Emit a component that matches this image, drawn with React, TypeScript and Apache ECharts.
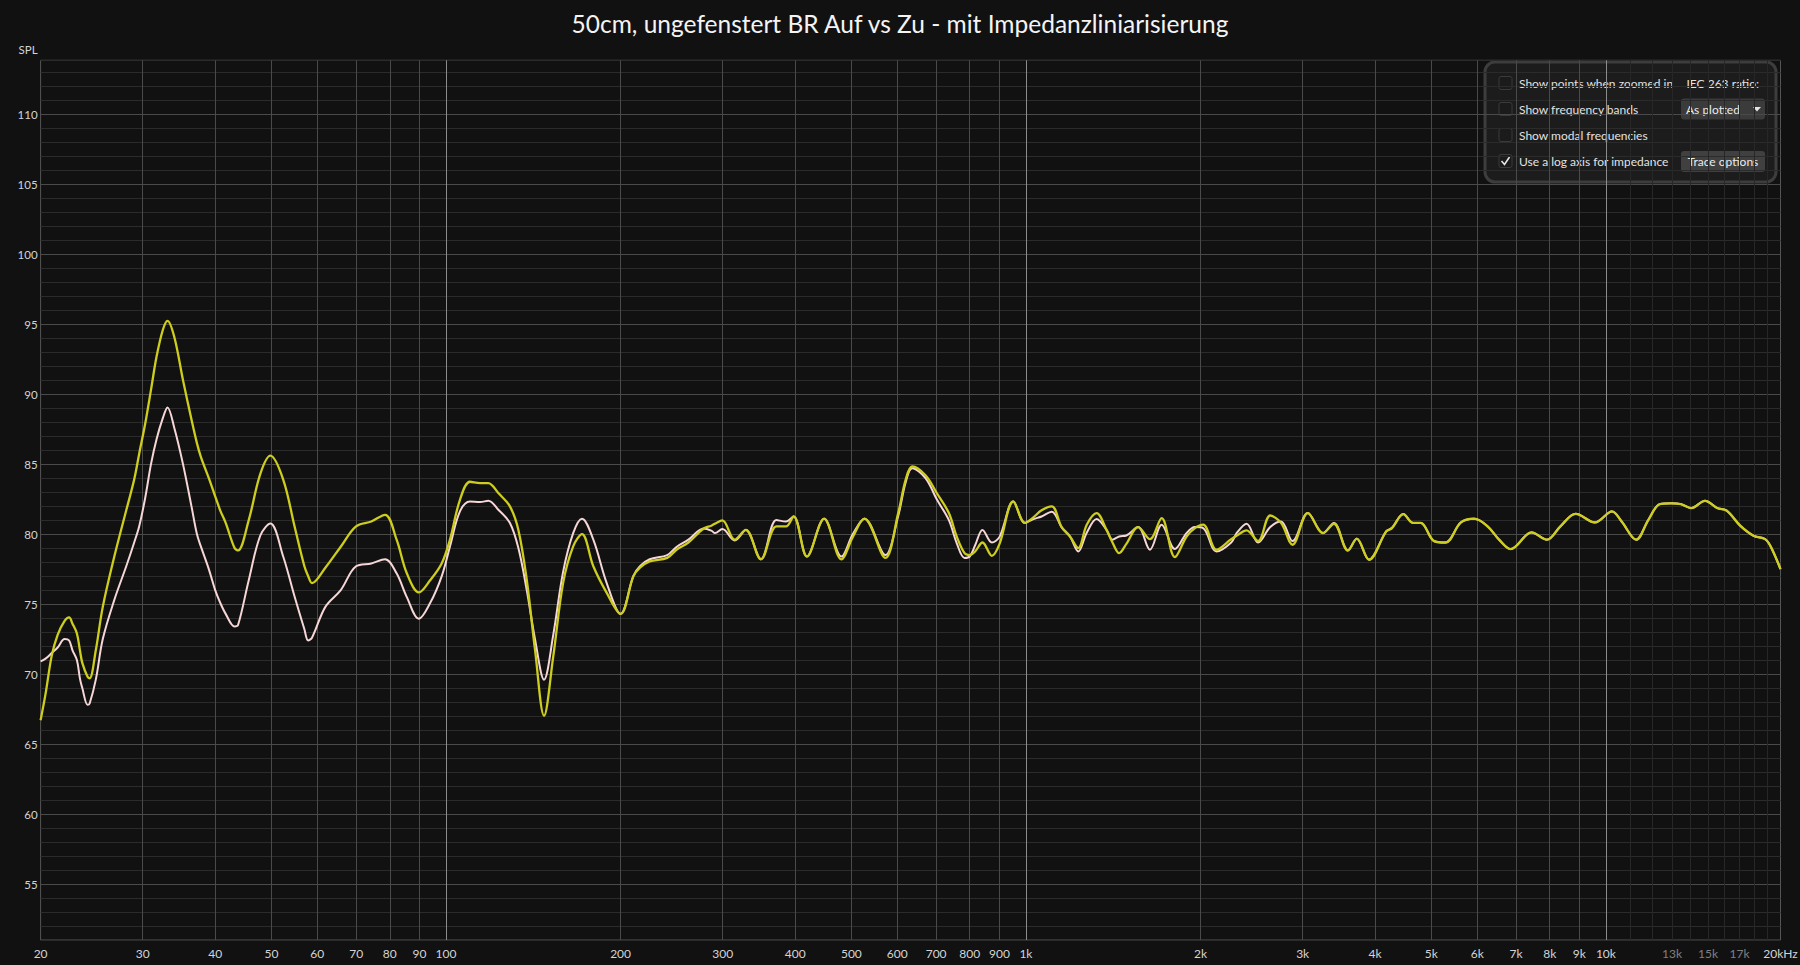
import React, { useEffect, useRef } from 'react';
import * as echarts from 'echarts';

const TITLE = '50cm, ungefenstert BR Auf vs Zu - mit Impedanzliniarisierung';
const Y_NAME = 'SPL';
const FONT = 'Lato, "Open Sans", "Noto Sans", sans-serif';

const freqs = [
  20, 20.4, 20.9, 21.4, 22.0, 22.4, 22.7, 23.1, 23.4, 23.6, 24.1, 24.3, 24.9, 25.6, 26.8, 28.1, 29.0, 29.6,
  30.3, 31.0, 31.7, 32.5, 33.1, 34.0, 35.2, 36.4, 37.2, 37.8, 39.0, 40.0, 40.8, 41.7, 43.2, 43.8, 45.7,
  47.85, 49.8, 52.4, 54.85, 57.0, 57.85, 58.74, 61.95, 65.85, 69.97, 74.35, 78.5, 82.2, 85.6, 89.8, 93.9,
  98.3, 101.6, 105.7, 110, 114.5, 118.3, 123.1, 128.9, 133.3, 137.8, 142.4, 147.6, 153.1, 159.2, 165.7,
  171.6, 179.5, 189.3, 200, 210.4, 216, 224.5, 240.7, 250, 261.8, 278.2, 286.7, 291, 299.6, 314.7, 328.8,
  349.2, 371.3, 385.7, 397.5, 419.2, 448.8, 480.6, 503, 526.6, 572.3, 602.2, 620.4, 636.6, 671, 702.6,
  736.4, 759.6, 783.7, 800, 817.3, 841.5, 873.4, 900.5, 951, 996, 1030, 1064, 1108, 1152, 1191, 1231,
  1273, 1324, 1377, 1410, 1448, 1490, 1561, 1636, 1714, 1806, 1892, 1956, 2021, 2131, 2259, 2311, 2401,
  2513, 2638, 2753, 2882, 3062, 3253, 3396, 3591, 3719, 3904, 4180, 4276, 4474, 4649, 4793, 5055, 5291,
  5622, 5929, 6253, 6545, 6851, 7447, 7912, 8346, 8869, 9569, 10247, 10644, 11275, 11838, 12387, 12966,
  13468, 14033, 14822, 15560, 16162, 17044, 17973, 18812, 19245, 20000,
];

// yellow trace
const splAuf = [
  66.7, 68.6, 71.3, 72.8, 73.8, 74.05, 73.6, 72.9, 71.6, 70.8, 69.8, 69.7, 71.7, 74.8, 78.4, 81.7, 83.9, 85.8,
  87.9, 90.3, 92.7, 94.6, 95.24, 94.1, 91.0, 88.2, 86.5, 85.5, 84.0, 82.7, 81.7, 80.8, 79.0, 78.83, 81.0,
  84.3, 85.6, 83.9, 80.5, 77.7, 77.0, 76.5, 77.6, 79.1, 80.55, 80.9, 81.38, 79.6, 77.2, 75.83, 76.7,
  77.9, 79.6, 82.45, 83.74, 83.64, 83.64, 82.93, 81.98, 80.3, 76.74, 71.74, 67.02, 71.26, 76.5, 79.12,
  80.0, 77.7, 75.8, 74.3, 76.98, 77.6, 78.05, 78.3, 78.9, 79.4, 80.4, 80.6, 80.75, 80.98, 79.6, 80.3,
  78.2, 80.55, 80.55, 81.26, 78.4, 81.1, 78.2, 79.8, 81.1, 78.3, 81.5, 83.9, 84.83, 84.2, 82.9,
  81.5, 79.83, 78.64, 78.5, 78.76, 79.4, 78.45, 79.3, 82.33, 80.8, 81.2, 81.7, 81.98, 80.5, 79.83, 79.0,
  80.67, 81.5, 80.3, 79.4, 78.64, 79.3, 80.5, 79.64, 81.14, 78.36, 79.83, 80.43, 80.67, 78.88, 79.64, 79.9, 80.26,
  79.5, 81.33, 80.8, 79.24, 81.5, 80.07, 80.74, 78.83, 79.67, 78.17, 80.19, 80.43, 81.43, 80.8, 80.8, 79.5, 79.4,
  80.83, 81.1, 80.55, 79.6, 78.93, 80.12, 79.6, 80.55, 81.45, 80.83, 81.62, 80.9, 79.6, 81.02, 82.14, 82.2,
  82.14, 81.86, 82.38, 81.86, 81.67, 80.6, 79.88, 79.64, 79.1, 77.5,
];

// pink trace
const splZu = [
  70.9, 71.1, 71.5, 71.9, 72.5, 72.4, 71.7, 71.0, 69.6, 69.0, 67.8, 67.9, 69.6, 72.5, 75.3, 77.7, 79.4, 80.6,
  82.6, 85.0, 86.8, 88.3, 89.05, 87.6, 85.0, 82.0, 80.0, 79.1, 77.5, 76.0, 75.1, 74.3, 73.4, 73.5, 76.7,
  79.9, 80.75, 78.4, 75.5, 73.2, 72.4, 72.6, 74.8, 76.0, 77.7, 77.9, 78.2, 77.2, 75.5, 73.95, 75.07,
  76.98, 79.12, 81.62, 82.33, 82.29, 82.38, 81.74, 80.79, 79.0, 76.0, 72.5, 69.6, 72.8, 77.3, 80.07,
  81.1, 79.6, 76.5, 74.3, 77.0, 77.7, 78.2, 78.5, 79.1, 79.6, 80.4, 80.25, 80.07, 80.36, 79.55, 80.3,
  78.2, 81.0, 80.9, 81.26, 78.4, 81.1, 78.4, 80.0, 81.1, 78.5, 81.3, 83.7, 84.7, 84.0, 82.45,
  81.0, 79.36, 78.3, 78.4, 79.2, 80.3, 79.4, 79.8, 82.33, 80.8, 81.07, 81.26, 81.6, 80.5, 79.83, 78.76,
  80.1, 81.07, 80.3, 79.6, 79.83, 79.9, 80.5, 78.88, 80.67, 78.93, 80.07, 80.5, 80.43, 78.76, 79.4, 80.1, 80.74,
  79.4, 80.5, 80.9, 79.5, 81.5, 80.07, 80.8, 78.83, 79.67, 78.17, 80.19, 80.43, 81.43, 80.8, 80.8, 79.5, 79.4,
  80.83, 81.1, 80.55, 79.6, 78.93, 80.12, 79.6, 80.55, 81.45, 80.83, 81.62, 80.9, 79.6, 81.02, 82.14, 82.2,
  82.14, 81.86, 82.38, 81.86, 81.67, 80.6, 79.88, 79.64, 79.1, 77.5,
];

const xLabelFreqs = [20, 30, 40, 50, 60, 70, 80, 90, 100, 200, 300, 400, 500, 600, 700, 800, 900, 1000,
  2000, 3000, 4000, 5000, 6000, 7000, 8000, 9000, 10000, 13000, 15000, 17000, 20000];
const xLabelTexts = ['20', '30', '40', '50', '60', '70', '80', '90', '100', '200', '300', '400', '500', '600',
  '700', '800', '900', '1k', '2k', '3k', '4k', '5k', '6k', '7k', '8k', '9k', '10k', '13k', '15k', '17k', '20kHz'];
const xDimLabels = ['13k', '15k', '17k'];
const xMajorGrid = [30, 40, 50, 60, 70, 80, 90, 200, 300, 400, 500, 600, 700, 800, 900,
  2000, 3000, 4000, 5000, 6000, 7000, 8000, 9000];
const xDecadeGrid = [100, 1000, 10000];
const xMinorGrid = [11000, 12000, 13000, 14000, 15000, 16000, 17000, 18000, 19000];
const yLabelValues = [55, 60, 65, 70, 75, 80, 85, 90, 95, 100, 105, 110];

const panelRows = [
  { text: 'Show points when zoomed in', checked: false },
  { text: 'Show frequency bands', checked: false },
  { text: 'Show modal frequencies', checked: false },
  { text: 'Use a log axis for impedance', checked: true },
];
const panelRatioLabel = 'IEC 263 ratio:';
const panelDropdown = 'As plotted';
const panelButton = 'Trace options';

const lg = (f: number) => Math.log10(f);

export default function App() {
  const ref = useRef<HTMLDivElement>(null);
  useEffect(() => {
    if (!ref.current) return;
    const chart = echarts.init(ref.current, undefined, { renderer: 'svg' });
    const xmin = lg(20);
    const xmax = lg(20000);
    const labelFor = (v: number) => {
      for (let i = 0; i < xLabelFreqs.length; i++) {
        if (Math.abs(lg(xLabelFreqs[i]) - v) < 1e-6) {
          const t = xLabelTexts[i];
          return xDimLabels.includes(t) ? `{dim|${t}}` : `{n|${t}}`;
        }
      }
      return '';
    };
    const baseX = {
      type: 'value',
      min: xmin,
      max: xmax,
      position: 'bottom',
      gridIndex: 0,
      axisLine: { show: false },
    };
    const minor = '#272727';
    const major = '#4a4a4a';
    const yColors = ['#2b2b2b', '#2b2b2b', '#2b2b2b', '#2b2b2b', major];
    const panelX = 1485;
    const panelY = 62;
    const rowY0 = 83;
    const rowStep = 26;
    const panelChildren: any[] = [
      {
        type: 'rect',
        shape: { x: panelX, y: panelY, width: 291, height: 120, r: 10 },
        style: { fill: 'rgba(29,29,29,0.96)', stroke: '#3d3d3d', lineWidth: 3 },
      },
    ];
    panelRows.forEach((row, i) => {
      const cy = rowY0 + i * rowStep;
      panelChildren.push({
        type: 'rect',
        shape: { x: 1499, y: cy - 6.5, width: 13, height: 13, r: 2 },
        style: { fill: '#1b1b1b', stroke: '#3a3a3a', lineWidth: 1 },
      });
      if (row.checked) {
        panelChildren.push({
          type: 'polyline',
          shape: { points: [[1501.5, cy], [1504.5, cy + 3.5], [1509.5, cy - 4]] },
          style: { stroke: '#e6e6e6', lineWidth: 1.6, fill: 'none' },
        });
      }
      panelChildren.push({
        type: 'text',
        x: 1519,
        y: cy,
        style: {
          text: row.text, fill: '#e2e2e2', font: `12px ${FONT}`,
          textAlign: 'left', align: 'left', textVerticalAlign: 'middle', verticalAlign: 'middle',
        },
      });
    });
    panelChildren.push({
      type: 'text', x: 1759, y: rowY0,
      style: { text: panelRatioLabel, fill: '#e2e2e2', font: `12px ${FONT}`, textAlign: 'right', align: 'right', textVerticalAlign: 'middle', verticalAlign: 'middle' },
    });
    panelChildren.push({
      type: 'rect', shape: { x: 1681, y: 98.5, width: 84, height: 21, r: 3 },
      style: { fill: '#3b3b3b' },
    });
    panelChildren.push({
      type: 'text', x: 1686, y: 109,
      style: { text: panelDropdown, fill: '#ececec', font: `12px ${FONT}`, textAlign: 'left', align: 'left', textVerticalAlign: 'middle', verticalAlign: 'middle' },
    });
    panelChildren.push({
      type: 'polygon', shape: { points: [[1753, 107], [1761, 107], [1757, 111.5]] },
      style: { fill: '#e6e6e6' },
    });
    panelChildren.push({
      type: 'rect', shape: { x: 1681, y: 151, width: 84, height: 21, r: 3 },
      style: { fill: '#404040' },
    });
    panelChildren.push({
      type: 'text', x: 1723, y: 161.5,
      style: { text: panelButton, fill: '#ececec', font: `12px ${FONT}`, textAlign: 'center', align: 'center', textVerticalAlign: 'middle', verticalAlign: 'middle' },
    });

    const option: any = {
      animation: false,
      backgroundColor: '#111111',
      title: {
        text: TITLE,
        left: 'center',
        top: 6,
        textStyle: { color: '#f4f4f4', fontSize: 24.5, fontWeight: 'normal', fontFamily: FONT },
      },
      grid: {
        left: 40.6, right: 19.5, top: 60.3, bottom: 25,
        containLabel: false, outerBoundsMode: 'none',
        show: true, borderColor: '#555555', borderWidth: 1, backgroundColor: 'transparent',
      },
      xAxis: [
        {
          ...baseX,
          axisTick: { show: false, customValues: xMajorGrid.map(lg) },
          axisLabel: {
            show: true,
            customValues: xLabelFreqs.map(lg),
            formatter: (v: number) => labelFor(v),
            margin: 7,
            rich: {
              n: { color: '#d4d4d4', fontSize: 12, fontFamily: FONT },
              dim: { color: '#808080', fontSize: 12, fontFamily: FONT },
            },
          },
          splitLine: { show: true, lineStyle: { color: major, width: 1 } },
        },
        {
          ...baseX,
          axisTick: { show: false, customValues: xDecadeGrid.map(lg) },
          axisLabel: { show: false },
          splitLine: { show: true, lineStyle: { color: '#8c8c8c', width: 1 } },
        },
        {
          ...baseX,
          axisTick: { show: false, customValues: xMinorGrid.map(lg) },
          axisLabel: { show: false },
          splitLine: { show: true, lineStyle: { color: minor, width: 1 } },
        },
      ],
      yAxis: {
        type: 'value',
        min: 51,
        max: 113.85,
        interval: 1,
        name: Y_NAME,
        nameLocation: 'end',
        nameGap: 5,
        nameTextStyle: { color: '#d4d4d4', fontSize: 11.5, fontFamily: FONT, align: 'right', padding: [0, 3, 0, 0] },
        axisLine: { show: false },
        axisTick: { show: false },
        axisLabel: {
          formatter: (v: number) => (yLabelValues.includes(v) ? String(v) : ''),
          color: '#d4d4d4',
          fontSize: 11.5,
          fontFamily: FONT,
          margin: 3,
        },
        splitLine: { show: true, showMinLine: true, showMaxLine: true, lineStyle: { color: yColors, width: 1 } },
      },
      series: [
        {
          name: 'BR Zu',
          type: 'line',
          xAxisIndex: 0,
          data: freqs.map((f, i) => [lg(f), splZu[i]]),
          showSymbol: false,
          symbol: 'none',
          smooth: 0.35,
          silent: true,
          lineStyle: { color: '#f6d6d6', width: 2 },
          z: 3,
        },
        {
          name: 'BR Auf',
          type: 'line',
          xAxisIndex: 0,
          data: freqs.map((f, i) => [lg(f), splAuf[i]]),
          showSymbol: false,
          symbol: 'none',
          smooth: 0.35,
          silent: true,
          lineStyle: { color: '#cdcd1e', width: 2.3 },
          z: 4,
        },
      ],
      graphic: { elements: [{ type: 'group', z: 100, silent: true, children: panelChildren }] },
    };
    chart.setOption(option);
    return () => chart.dispose();
  }, []);
  return (
    <div
      ref={ref}
      style={{ position: 'fixed', left: 0, top: 0, width: 1800, height: 965, background: '#111111' }}
    />
  );
}
